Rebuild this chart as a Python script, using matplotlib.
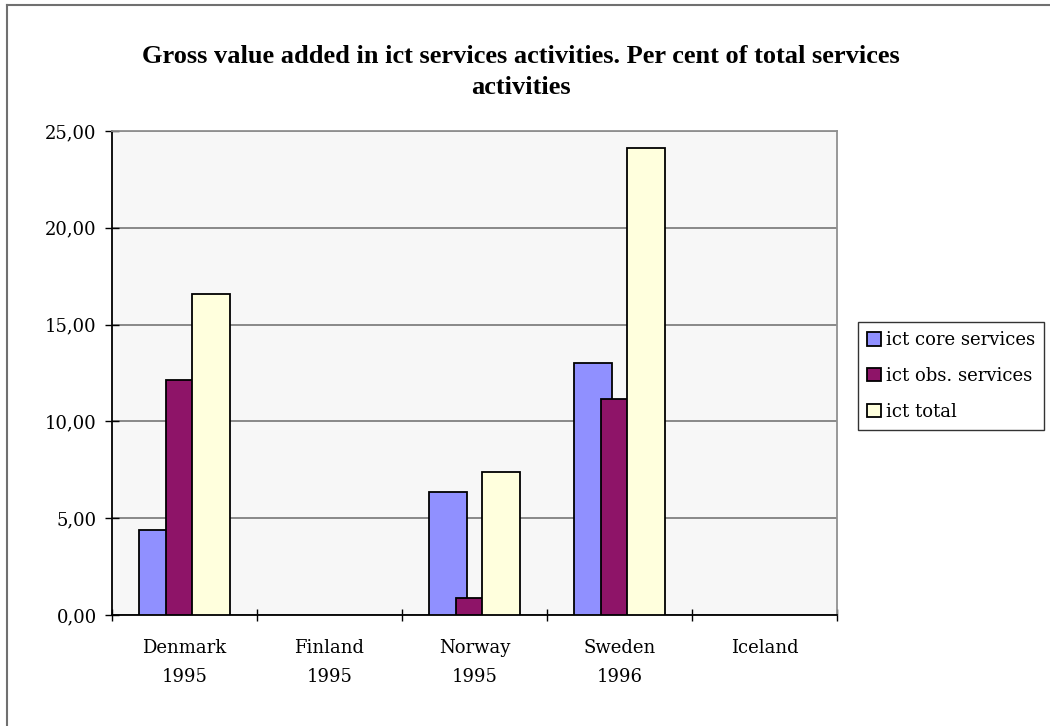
import numpy as np
import matplotlib.pyplot as plt
from matplotlib.lines import Line2D

# ICT share of gross value added, per cent of total services
countries = ['Denmark\n1995', 'Finland\n1995', 'Norway\n1995', 'Sweden\n1996', 'Iceland']
series_names = ['ict core services', 'ict obs. services', 'ict total']
core = [4.40, np.nan, 6.37, 13.00, np.nan]
obs = [12.15, np.nan, 0.90, 11.15, np.nan]
total = [16.60, np.nan, 7.40, 24.10, np.nan]
colors = ['#9090FF', '#8E1468', '#FFFFDD']

fig = plt.figure(figsize=(10.5, 7.26), dpi=100)
fig.patch.set_facecolor('white')

# chart frame (only left and top edges fall inside the image)
fig.add_artist(Line2D([7 / 1050, 7 / 1050], [0, 1 - 5 / 726], transform=fig.transFigure,
                      color='#707070', lw=1.5))
fig.add_artist(Line2D([7 / 1050, 1], [1 - 5 / 726, 1 - 5 / 726], transform=fig.transFigure,
                      color='#707070', lw=1.5))

ax = fig.add_axes([112 / 1050, 111 / 726, 725 / 1050, 484 / 726])
ax.set_facecolor('#F7F7F7')

x = np.arange(len(countries))
width = 0.262
step = 0.18
for i, (vals, name, col) in enumerate(zip([core, obs, total], series_names, colors)):
    ax.bar(x + (i - 1) * step, vals, width, color=col, edgecolor='black',
           linewidth=1.3, label=name, zorder=3 + i)

ax.set_xlim(-0.5, len(countries) - 0.5)
ax.set_ylim(0, 25)
ax.set_yticks(np.arange(0, 26, 5))
ax.set_yticklabels([f'{v:.2f}'.replace('.', ',') for v in np.arange(0, 26, 5)],
                   family='DejaVu Serif', fontsize=13)
ax.yaxis.grid(True, color='#808080', lw=1.3, zorder=1)

ax.set_xticks(x)
ax.set_xticklabels(countries, family='DejaVu Serif', fontsize=13, linespacing=1.78)
ax.set_xticks(np.arange(-0.5, len(countries), 1), minor=True)
ax.tick_params(axis='x', which='major', length=0, pad=17)
ax.tick_params(axis='x', which='minor', direction='inout', length=9, width=1)
ax.tick_params(axis='y', direction='inout', length=10, width=1, pad=6)

for side in ['top', 'right']:
    ax.spines[side].set_color('#909090')
    ax.spines[side].set_linewidth(1.3)
for side in ['left', 'bottom']:
    ax.spines[side].set_color('black')
    ax.spines[side].set_linewidth(1.3)

fig.text(521 / 1050, 1 - 72 / 726,
         'Gross value added in ict services activities. Per cent of total services\nactivities',
         ha='center', va='center', family='Liberation Serif', weight='bold',
         fontsize=19, linespacing=1.45)

leg = ax.legend(loc='center left', bbox_to_anchor=(858 / 1050, 1 - 376 / 726),
                bbox_transform=fig.transFigure, frameon=True, fancybox=False,
                prop={'family': 'DejaVu Serif', 'size': 13}, handlelength=0.75,
                handleheight=0.75, handletextpad=0.3, labelspacing=0.98,
                borderpad=0.5, borderaxespad=0)
leg.get_frame().set_edgecolor('black')
leg.get_frame().set_linewidth(1.0)

fig.savefig('out.png', dpi=100)
